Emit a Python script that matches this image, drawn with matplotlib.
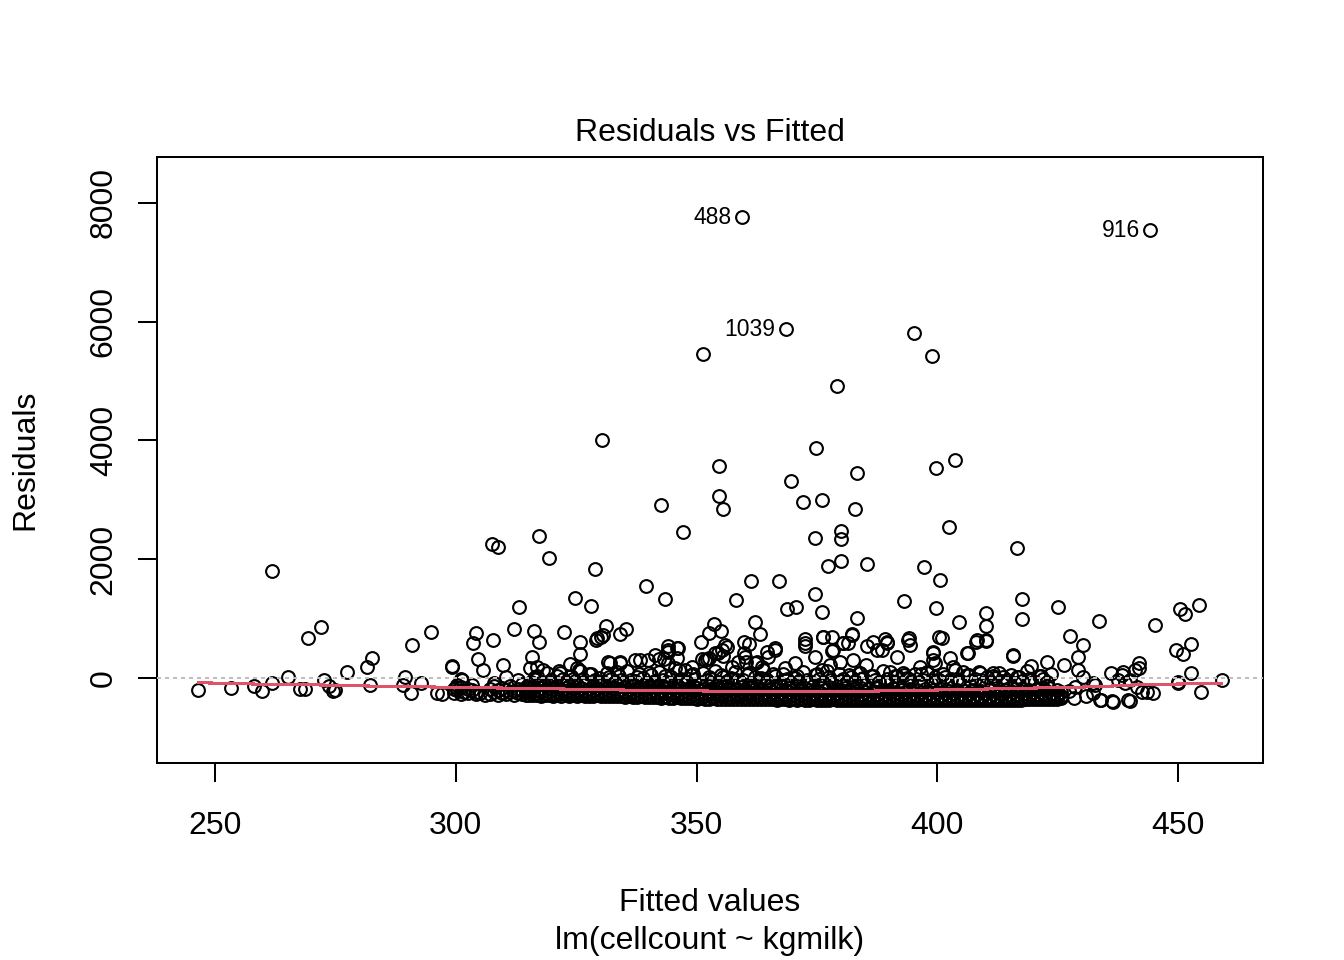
import matplotlib
matplotlib.use('Agg')
import matplotlib.pyplot as plt

# Residuals vs Fitted for lm(cellcount ~ kgmilk)

# labelled outliers (observation number, fitted, residual)
label_ids = ['488', '916', '1039']
label_fit = [359.4, 444.2, 368.6]
label_res = [7763, 7544, 5877]

# scattered points above the main band
high_fit = [351.3, 395.2, 398.9, 379.2, 330.4, 374.8, 354.6, 383.3, 399.7, 403.7,
            369.6, 354.6, 355.6, 342.7, 372.2, 376.0, 382.9, 347.1, 374.7, 380.1,
            380.1, 402.5, 307.6, 308.7, 317.2, 319.3, 329.0, 416.5, 261.8, 377.4,
            380.1, 385.5, 397.2, 400.5, 361.4, 367.2, 339.6, 343.4, 324.7, 328.0,
            313.1, 358.3, 368.8, 370.7, 376.0, 383.3, 393.0, 399.7, 417.5, 417.5,
            425.0, 410.1, 410.1, 404.6, 433.5, 445.2, 450.5, 451.5, 454.3, 452.6,
            449.6, 451.1, 374.7, 269.3, 272.0]
high_res = [5456, 5810, 5422, 4917, 4008, 3873, 3570, 3452, 3540, 3665,
            3320, 3070, 2850, 2915, 2966, 3000, 2848, 2462, 2360, 2480,
            2346, 2546, 2260, 2208, 2393, 2024, 1838, 2192, 1805, 1888,
            1972, 1922, 1872, 1656, 1636, 1636, 1543, 1333, 1353, 1215,
            1198, 1316, 1170, 1200, 1114, 1016, 1305, 1185, 1333, 996,
            1198, 1098, 870, 938, 954, 896, 1170, 1075, 1232, 575,
            471, 400, 1420, 679, 864]

# points between about 0 and 900
mid_fit = [282.6, 281.5, 277.4, 265.1, 294.8, 291.0, 299.2, 303.6, 304.1, 304.6,
           305.6, 307.7, 309.8, 312.0, 316.2, 317.2, 315.8, 322.5, 325.8, 325.8,
           325.8, 323.7, 329.1, 330.2, 331.2, 334.2, 335.3, 331.7, 334.2, 342.3,
           343.2, 345.9, 344.0, 344.0, 345.9, 351.0, 352.5, 353.6, 355.1, 356.3,
           351.2, 352.2, 354.4, 355.4, 359.9, 361.0, 362.1, 363.1, 359.9, 360.3,
           362.5, 364.7, 366.2, 372.6, 372.6, 376.3, 378.1, 378.1, 382.3, 380.5,
           381.5, 385.5, 386.7, 389.1, 389.5, 394.1, 394.3, 388.5, 399.2, 399.2,
           400.3, 400.9, 406.4, 408.1, 410.1, 427.6, 430.2, 429.2, 415.8, 419.5,
           422.7, 426.4, 441.8, 441.8, 452.7, 436.1, 438.3, 429.3, 430.3, 438.6,
           441.1, 337.2, 338.3, 340.0, 341.4, 344.1, 346.2, 344.1, 345.5, 347.6,
           349.0, 351.8, 352.5, 353.8, 355.2, 355.9, 357.3, 358.7, 360.1, 362.1,
           363.5, 364.9, 366.3, 368.4, 370.5, 372.6, 374.7, 376.1, 376.3, 378.4,
           380.5, 382.2, 377.7, 379.8, 382.6, 385.3, 387.4, 389.5, 391.6, 394.0,
           396.4, 399.2, 399.5, 402.6, 403.3, 406.1, 408.2, 410.2, 411.6, 413.7,
           415.8, 384.0, 390.2, 393.0, 397.8, 405.4, 408.9, 299.2, 315.4, 316.8,
           318.2, 321.7, 325.1, 329.3, 330.6, 332.0, 334.1, 333.4]
mid_res = [337, 191, 95, 11, 780, 561, 185, 589, 763, 325,
           140, 640, 224, 825, 791, 612, 359, 780, 601, 404,
           123, 236, 640, 696, 881, 741, 825, 264, 264, 315,
           315, 332, 539, 443, 500, 612, 752, 904, 797, 516,
           315, 315, 416, 370, 612, 567, 943, 746, 416, 269,
           275, 443, 500, 657, 544, 696, 696, 460, 741, 595,
           584, 539, 612, 657, 612, 668, 556, 471, 443, 303,
           696, 679, 416, 612, 629, 710, 550, 359, 376, 202,
           264, 219, 247, 163, 79, 79, 50, 135, 22, 107,
           135, 303, 303, 303, 387, 471, 500, 247, 163, 135,
           190, 303, 332, 416, 471, 556, 190, 275, 359, 247,
           190, 359, 471, 163, 247, 584, 359, 135, 696, 471,
           584, 724, 219, 275, 303, 219, 471, 584, 359, 640,
           190, 416, 247, 332, 190, 416, 640, 640, 79, 22,
           387, 79, 107, 51, 79, 107, 79, 202, 163, 190,
           135, 79, 163, 668, 724, 247, 247, 107]

# sparse low points at both ends of the fitted range
low_fit = [246.4, 253.3, 258.0, 259.8, 261.8, 267.7, 268.7, 272.6, 273.6, 274.6,
           275.0, 282.1, 289.5, 289.0, 290.7, 292.7, 296.1, 297.2, 300.1, 301.3,
           450.1, 454.7, 459.1, 440.0, 433.8, 436.2, 440.0, 428.3, 432.4, 443.5,
           432.4, 428.6, 432.8, 434.1, 437.6, 439.0, 441.4, 442.5, 450.1, 436.6,
           439.7, 430.8, 444.8, 427.4]
low_res = [-202, -168, -135, -213, -79, -185, -185, -34, -129, -213,
           -202, -123, 22, -123, -258, -79, -258, -270, -146, -34,
           -62, -241, -30, -34, -370, -382, -382, -342, -258, -230,
           -90, -146, -118, -370, -34, -90, -146, -230, -90, -410,
           -370, -300, -250, -220]

# top edge of the dense band, around zero
top_fit = [315.6, 316.5, 317.4, 318.9, 319.8, 320.7, 321.5, 322.3, 323.2, 324.0,
           324.8, 325.6, 326.4, 327.3, 328.1, 329.0, 329.8, 330.6, 331.4, 332.3,
           333.1, 334.0, 334.8, 335.6, 336.4, 337.3, 338.1, 338.9, 339.8, 340.6,
           341.4, 342.2, 343.1, 343.9, 344.7, 345.6, 346.4, 347.2, 348.0, 348.9,
           349.7, 350.5, 351.4, 352.2, 353.0, 353.8, 354.7, 355.5, 356.3, 357.2,
           358.0, 358.8, 359.6, 360.5, 361.3, 362.1, 363.0, 363.8, 364.6, 365.5,
           366.3, 367.1, 367.9, 368.8, 369.6, 370.4, 371.3, 372.1, 372.9, 373.8,
           374.6, 375.4, 376.2, 377.1, 377.9, 378.7, 379.6, 380.4, 381.2, 382.1,
           382.9, 383.7, 384.5, 385.4, 386.2, 387.0, 387.9, 388.7, 389.5, 390.4,
           391.2, 392.0, 392.8, 393.7, 394.5, 395.3, 396.2, 397.0, 397.8, 398.7,
           399.5, 400.3, 401.1, 402.0, 402.8, 403.6, 404.5, 405.3, 406.1, 407.0,
           407.8, 408.6, 409.4, 410.3, 411.1, 411.9, 412.8, 413.6, 414.4, 415.3,
           416.1, 416.9, 417.7, 418.6, 419.4, 420.2, 421.1, 421.9, 422.7, 423.6]
top_res = [-60, 20, -90, 80, -30, -70, 110, -10, -80, 40,
           -50, 130, -20, -85, 60, -40, 0, -75, 90, -15,
           -65, 30, -90, 120, -35, -55, 70, -5, -80, 45,
           -45, 100, -25, -70, 10, -90, 140, -30, -60, 50,
           -10, -85, 85, -40, -20, 115, -75, 25, -55, -5,
           95, -65, -35, 55, -90, 15, -45, 130, -25, -80,
           35, -60, 75, -15, -85, 5, -50, 105, -30, -70,
           45, -10, -90, 125, -40, -60, 65, -20, -75, 20,
           -50, 90, -5, -85, 40, -35, -65, 110, -15, -55,
           30, -80, 80, 0, -45, 60, -70, -25, 100, -90,
           10, -40, 70, -60, -10, 135, -30, -75, 50, -50,
           -20, 95, -85, 25, -65, -5, 85, -45, -35, 55,
           -80, 15, -55, 120, -25, -70, 40, -10, -60, 75]

# the dense band, one list of residuals per fitted value
band_fit = [299.6, 300.3, 301.0, 301.8, 302.5, 303.4, 304.2, 305.0, 306.1, 307.1,
            307.9, 308.8, 309.6, 310.4, 311.2, 312.1, 313.0, 313.8, 314.5,
            315.2, 316.0, 316.9, 317.7, 318.5, 319.4, 320.2, 321.1, 321.9, 322.8,
            323.6, 324.3, 325.2, 326.0, 326.9, 327.7, 328.5, 329.4, 330.2, 331.0,
            331.9, 332.7, 333.5, 334.4, 335.2, 336.0, 336.9, 337.7, 338.5, 339.3,
            340.2, 341.0, 341.8, 342.7, 343.5, 344.3, 345.2, 346.0, 346.8, 347.6,
            348.5, 349.3, 350.1, 351.0, 351.8, 352.6, 353.4, 354.3, 355.1, 355.9,
            356.8, 357.6, 358.4, 359.2, 360.1, 360.9, 361.7, 362.6, 363.4, 364.2,
            365.1, 365.9, 366.7, 367.5, 368.4, 369.2, 370.0, 370.9, 371.7, 372.5,
            373.4, 374.2, 375.0, 375.8, 376.7, 377.5, 378.3, 379.2, 380.0, 380.8,
            381.7, 382.5, 383.3, 384.1, 385.0, 385.8, 386.6, 387.5, 388.3, 389.1,
            390.0, 390.8, 391.6, 392.5, 393.3, 394.1, 395.0, 395.8, 396.6, 397.4,
            398.3, 399.1, 399.9, 400.8, 401.6, 402.4, 403.3, 404.1, 404.9, 405.8,
            406.6, 407.4, 408.2, 409.1, 409.9, 410.7, 411.6, 412.4, 413.2, 414.1,
            414.9, 415.7, 416.6, 417.4, 418.2, 419.0, 419.9, 420.7, 421.5, 422.4,
            423.2, 424.0, 424.9, 425.7]
band_res = [
    [-250, -180], [-210, -120], [-270, -150, -10], [-230], [-260, -180],
    [-200, -120], [-270, -230], [-250], [-280], [-265, -180],
    [-230, -140, -90], [-285, -200], [-250, -160], [-275, -210, 20], [-240, -130],
    [-285, -220], [-255, -180, -40], [-275, -210, -100], [-290, -230, -150],
    [-285, -240, -175, -95], [-290, -225, -150], [-280, -255, -200, -120, 40],
    [-295, -235, -165], [-285, -250, -205, -110], [-290, -220, -160, -60],
    [-300, -265, -190], [-285, -240, -140, 30], [-295, -255, -195, -100],
    [-280, -225, -170], [-300, -265, -210, -130], [-290, -245, -180, -20],
    [-300, -260, -200, -120], [-285, -235, -160], [-300, -270, -215, -90],
    [-295, -250, -185, 60], [-305, -265, -200, -140], [-290, -240, -175, -60],
    [-305, -275, -225, -110], [-310, -255, -190], [-295, -270, -210, -150, 10],
    [-310, -245, -170], [-300, -280, -230, -120], [-310, -260, -200, -40],
    [-315, -275, -215, -150], [-305, -250, -185, -80], [-315, -285, -235, -130],
    [-320, -265, -205, 20], [-310, -280, -225, -160], [-320, -255, -190, -100],
    [-325, -290, -240, -140, 90], [-315, -270, -210, -60], [-325, -285, -230, -170],
    [-330, -260, -195, -110], [-320, -295, -245, -150, 40], [-330, -275, -215, -80],
    [-335, -290, -235, -170], [-325, -265, -200, -120], [-335, -300, -250, -160, -20],
    [-340, -280, -220, -100], [-330, -295, -240, -180], [-340, -270, -210, -130, 70],
    [-345, -305, -255, -160], [-335, -285, -225, -90], [-345, -300, -245, -190],
    [-350, -275, -215, -140, 10], [-340, -310, -260, -170], [-350, -290, -230, -110],
    [-355, -305, -250, -195, 50], [-345, -280, -220, -130], [-350, -315, -265, -180],
    [-355, -295, -240, -100], [-345, -310, -255, -200, -30], [-355, -285, -225, -150],
    [-360, -320, -270, -185], [-350, -300, -245, -120, 80], [-355, -315, -260, -200],
    [-360, -290, -230, -140], [-350, -325, -275, -190, 0], [-360, -305, -250, -110],
    [-355, -320, -265, -205], [-360, -295, -235, -150, 60], [-365, -330, -280, -180],
    [-355, -310, -255, -120], [-360, -325, -270, -210, -40], [-365, -300, -240, -160],
    [-355, -335, -285, -195], [-365, -315, -260, -130, 30], [-360, -330, -275, -215],
    [-365, -305, -245, -170], [-370, -340, -290, -200, -70], [-360, -320, -265, -140],
    [-365, -335, -280, -220, 70], [-370, -310, -250, -175], [-365, -345, -295, -205],
    [-370, -325, -270, -150, 10], [-360, -340, -285, -225], [-370, -315, -255, -180],
    [-375, -350, -300, -210, -50], [-365, -330, -275, -160], [-370, -345, -290, -230, 50],
    [-375, -320, -260, -185], [-365, -350, -305, -215], [-375, -335, -280, -165, -10],
    [-370, -350, -295, -235], [-375, -325, -265, -190], [-370, -355, -310, -220, 40],
    [-375, -340, -285, -170], [-365, -350, -300, -240], [-375, -330, -270, -195, -60],
    [-370, -355, -315, -225], [-375, -345, -290, -175], [-365, -355, -305, -245, 30],
    [-375, -335, -275, -200], [-370, -360, -320, -230], [-375, -350, -295, -180, -20],
    [-370, -355, -310, -250], [-375, -340, -280, -205], [-365, -360, -325, -235, 60],
    [-375, -350, -300, -185], [-370, -355, -315, -255], [-375, -345, -285, -210, -40],
    [-370, -360, -330, -240], [-375, -350, -305, -190], [-365, -355, -320, -260, 20],
    [-375, -345, -290, -215], [-370, -360, -335, -245], [-375, -350, -310, -195, -10],
    [-365, -355, -325, -265], [-375, -345, -295, -220], [-370, -360, -340, -250, 50],
    [-375, -350, -315, -200], [-365, -355, -330, -270], [-375, -345, -300, -225, -30],
    [-370, -360, -345, -255], [-375, -350, -320, -205], [-365, -355, -335, -275, 30],
    [-375, -345, -305, -230], [-370, -360, -350, -260], [-375, -350, -325, -210, -60],
    [-365, -355, -340, -280], [-375, -345, -310, -235], [-370, -360, -350, -265, 10],
    [-375, -350, -330, -215], [-360, -345, -300, -250], [-355, -330, -285, -200, -20],
    [-360, -340, -310, -240], [-350, -325, -280, -180], [-355, -335, -300, -230, 40],
    [-345, -320, -270, -210], [-355, -330, -290, -160], [-345, -310, -250],
    [-350, -325, -280, -200], [-340, -300, -240],
]

# lowess smooth (red line)
smooth_fit = [246.5, 258.0, 272.6, 282.0, 300.0, 314.0, 334.7, 346.6, 362.5, 380.0,
              394.3, 407.0, 416.0, 428.6, 436.2, 443.1, 450.1, 459.1]
smooth_res = [-79, -101, -118, -135, -157, -174, -202, -213, -230, -228,
              -210, -191, -174, -157, -135, -107, -101, -90]

# put all the points together
fit = label_fit + high_fit + mid_fit + low_fit + top_fit
res = label_res + high_res + mid_res + low_res + top_res
for f, rs in zip(band_fit, band_res):
    for r in rs:
        fit.append(f)
        res.append(r)

plt.rcParams['font.family'] = ['Liberation Sans', 'DejaVu Sans']

fig = plt.figure(figsize=(13.44, 9.6), dpi=100)
ax = fig.add_axes([157 / 1344, 197 / 960, 1106 / 1344, 606 / 960])

# R's png device draws without antialiasing, so switch it off for the marks
ax.plot(fit, res, linestyle='none', marker='o', markersize=9.2, antialiased=False,
        markerfacecolor='none', markeredgecolor='black', markeredgewidth=1.5, zorder=2)
ax.plot(smooth_fit, smooth_res, color='#DF536B', linewidth=1.5, antialiased=False, zorder=3)
ax.axhline(0, color='#BEBEBE', linewidth=1.45, linestyle=(0, (1.6, 2.2)),
           antialiased=False, zorder=4)

for lab, f, r in zip(label_ids, label_fit, label_res):
    ax.annotate(lab, (f, r), xytext=(-7.5, 0), textcoords='offset points',
                ha='right', va='center', fontsize=16.5)

ax.set_xlim(237.95, 467.65)
ax.set_ylim(-1431, 8774)
ax.set_xticks([250, 300, 350, 400, 450])
ax.set_yticks([0, 2000, 4000, 6000, 8000])
ax.tick_params(axis='both', direction='out', length=13.8, width=1.45, labelsize=23)
ax.tick_params(axis='x', pad=20.5)
ax.tick_params(axis='y', pad=13.7, labelrotation=90)
for lbl in ax.get_yticklabels():
    lbl.set_verticalalignment('center')
for sp in ax.spines.values():
    sp.set_linewidth(1.45)

fig.text(710 / 1344, 1 - 133 / 960, 'Residuals vs Fitted', ha='center', va='center', fontsize=23)
fig.text(710 / 1344, 1 - 903 / 960, 'Fitted values', ha='center', va='center', fontsize=23)
fig.text(710 / 1344, 1 - 941 / 960, 'lm(cellcount ~ kgmilk)', ha='center', va='center', fontsize=23)
fig.text(25 / 1344, 1 - 460 / 960, 'Residuals', ha='center', va='center', rotation=90, fontsize=23)

fig.savefig('out.png', dpi=100)
